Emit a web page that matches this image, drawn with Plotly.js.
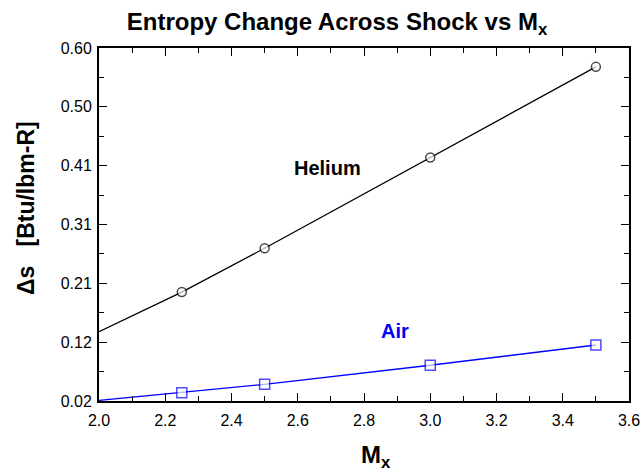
<!DOCTYPE html>
<html>
<head>
<meta charset="utf-8">
<script src="https://cdn.plot.ly/plotly-3.0.1.min.js"></script>
<style>html,body{margin:0;padding:0;background:#fff;}#chart{width:642px;height:473px;}</style>
</head>
<body>
<div id="chart"></div>
<script>
// Data
const machNumbers = [2.0, 2.25, 2.5, 3.0, 3.5];
const heliumEntropy = [0.134, 0.199, 0.271, 0.420, 0.569];
const airEntropy = [0.021, 0.0336, 0.0474, 0.0787, 0.112];
const markerShown = [false, true, true, true, true];

const yTickVals = [0.02, 0.1167, 0.2133, 0.31, 0.4067, 0.5033, 0.60];
const yTickText = ['0.02', '0.12', '0.21', '0.31', '0.41', '0.50', '0.60'];

const FONT = 'Liberation Sans, Arial, Helvetica, sans-serif';
const markerSizes = (s) => markerShown.map(v => v ? s : 0);

const traces = [
  {
    x: machNumbers, y: heliumEntropy, name: 'Helium', type: 'scatter', mode: 'lines+markers',
    line: {color: '#000000', width: 1.3},
    marker: {symbol: 'circle', size: markerSizes(9), color: '#ffffff', line: {color: '#000000', width: 1.5}},
    showlegend: false, cliponaxis: false
  },
  {
    x: machNumbers, y: airEntropy, name: 'Air', type: 'scatter', mode: 'lines+markers',
    line: {color: '#0000ff', width: 1.3},
    marker: {symbol: 'square', size: markerSizes(10), color: '#ffffff', line: {color: '#0000ff', width: 1.5}},
    showlegend: false, cliponaxis: false
  }
];

const layout = {
  width: 642, height: 473,
  margin: {l: 99, r: 13, t: 48, b: 72, pad: 0},
  paper_bgcolor: '#ffffff', plot_bgcolor: '#ffffff',
  font: {family: FONT, color: '#000000'},
  title: {
    text: '<b>Entropy Change Across Shock vs M<sub>x</sub></b>',
    font: {family: FONT, size: 24, color: '#000000'},
    xref: 'container', x: 337 / 642, xanchor: 'center',
    yref: 'container', y: 1 - 22 / 473, yanchor: 'middle'
  },
  xaxis: {
    range: [2.0, 3.6], tickmode: 'linear', tick0: 2.0, dtick: 0.2, tickformat: '.1f',
    showgrid: false, zeroline: false,
    showline: true, linecolor: '#000000', linewidth: 2, mirror: 'ticks',
    ticks: 'inside', ticklen: 8, tickwidth: 1, tickcolor: '#000000',
    tickfont: {family: FONT, size: 16, color: '#000000'},
    ticklabelstandoff: 4,
    minor: {tickmode: 'linear', tick0: 2.0, dtick: 0.1, ticks: 'inside', ticklen: 5, tickwidth: 1, tickcolor: '#000000', showgrid: false}
  },
  yaxis: {
    range: [0.02, 0.60], tickmode: 'array', tickvals: yTickVals, ticktext: yTickText,
    showgrid: false, zeroline: false,
    showline: true, linecolor: '#000000', linewidth: 2, mirror: 'ticks',
    ticks: 'inside', ticklen: 8, tickwidth: 1, tickcolor: '#000000',
    tickfont: {family: FONT, size: 16, color: '#000000'},
    ticklabelstandoff: 2,
    minor: {tickmode: 'linear', tick0: 0.02, dtick: 0.58 / 12, ticks: 'inside', ticklen: 5, tickwidth: 1, tickcolor: '#000000', showgrid: false}
  },
  annotations: [
    {text: '<b>Helium</b>', x: 2.69, y: 0.403, xref: 'x', yref: 'y', showarrow: false,
     font: {family: FONT, size: 20, color: '#000000'}, xanchor: 'center', yanchor: 'middle'},
    {text: '<b>Air</b>', x: 2.894, y: 0.135, xref: 'x', yref: 'y', showarrow: false,
     font: {family: FONT, size: 20, color: '#0000ff'}, xanchor: 'center', yanchor: 'middle'},
    {text: '<b>M<sub>x</sub></b>', x: (376 - 99) / 530, y: (401 - 456) / 353, xref: 'paper', yref: 'paper', showarrow: false,
     font: {family: FONT, size: 24, color: '#000000'}, xanchor: 'center', yanchor: 'middle'},
    {text: '<b>\u0394s\u00a0\u00a0\u00a0[Btu/lbm-R]</b>', x: (26 - 99) / 530, y: (401 - 208) / 353, xref: 'paper', yref: 'paper', showarrow: false,
     textangle: -90, font: {family: FONT, size: 23, color: '#000000'}, xanchor: 'center', yanchor: 'middle'}
  ]
};

Plotly.newPlot('chart', traces, layout, {displayModeBar: false, staticPlot: true});
</script>
</body>
</html>
